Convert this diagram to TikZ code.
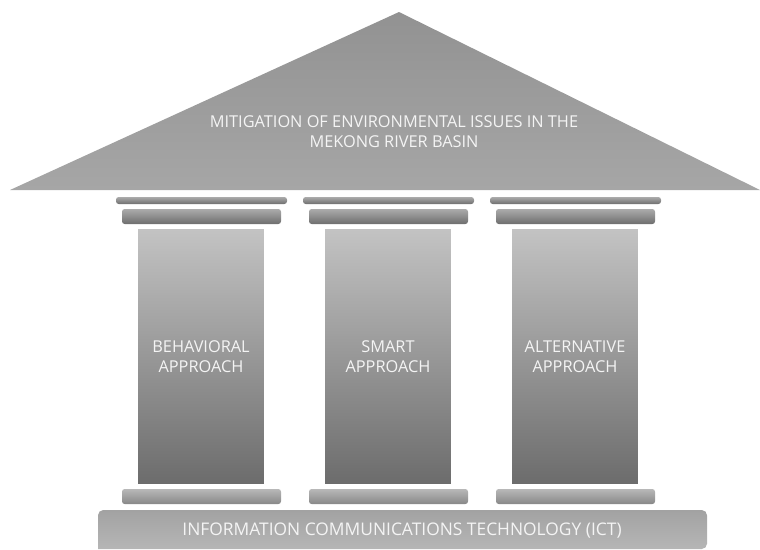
\documentclass[tikz,border=0pt]{standalone}
\usepackage{fontspec}
\setmainfont{Open Sans}
\usetikzlibrary{calc}

\definecolor{roofTop}{HTML}{929292}
\definecolor{roofBot}{HTML}{A6A6A6}
\definecolor{colTop}{HTML}{C3C3C3}
\definecolor{colBot}{HTML}{6C6C6C}
\definecolor{capTop}{HTML}{ABABAB}
\definecolor{capBot}{HTML}{6E6E6E}
\definecolor{plinthTop}{HTML}{B8B8B8}
\definecolor{plinthBot}{HTML}{888888}
\definecolor{baseTop}{HTML}{A2A2A2}
\definecolor{baseBot}{HTML}{B6B6B6}
\definecolor{labelCol}{HTML}{F4F4F4}

\newcommand{\labelfont}{\fontsize{9.3}{11.2}\selectfont}
\newcommand{\basefont}{\fontsize{9.9}{12}\selectfont}

\tikzset{
  label text/.style={text=labelCol, font=\labelfont, align=center, inner sep=0pt},
  pillar/.style={label text, minimum width=2.52cm, minimum height=5.1cm,
    top color=colTop, bottom color=colBot},
  capbar/.style={top color=capTop, bottom color=capBot, rounded corners=1.5pt},
  plinthbar/.style={top color=plinthTop, bottom color=plinthBot, rounded corners=1.5pt}
}

\begin{document}
\begin{tikzpicture}[x=0.02cm,y=-0.02cm]
    \useasboundingbox (0,0) rectangle (760,549);

    % Roof
    \shade[top color=roofTop, bottom color=roofBot] (10,190) -- (399,12) -- (760,190) -- cycle;
    \node[label text] (roof) at (394,131.5) {MITIGATION OF ENVIRONMENTAL ISSUES IN THE\\MEKONG RIVER BASIN};

    % Thin bars under the roof
    \shade[capbar] (116,197) rectangle (287,204);
    \shade[capbar] (303,197) rectangle (474,204);
    \shade[capbar] (490,197) rectangle (661,204);

    % Capitals
    \shade[capbar] (122,209) rectangle (281,224);
    \shade[capbar] (309,209) rectangle (468,224);
    \shade[capbar] (496,209) rectangle (655,224);

    % Pillars
    \node[pillar] (behav) at (201,356.5) {BEHAVIORAL\\APPROACH};
    \node[pillar] (smart) at (388,356.5) {SMART\\APPROACH};
    \node[pillar] (alter) at (575,356.5) {ALTERNATIVE\\APPROACH};

    % Plinths
    \shade[plinthbar] (122,489) rectangle (281,504);
    \shade[plinthbar] (309,489) rectangle (468,504);
    \shade[plinthbar] (496,489) rectangle (655,504);

    % Base
    \shade[top color=baseTop, bottom color=baseBot, rounded corners=3pt]
      (98,549) -- (98,510) -- (707,510) -- (707,549) [sharp corners] -- cycle;
    \node[label text, font=\basefont] (ict) at (402,531) {INFORMATION COMMUNICATIONS TECHNOLOGY (ICT)};

\end{tikzpicture}
\end{document}
